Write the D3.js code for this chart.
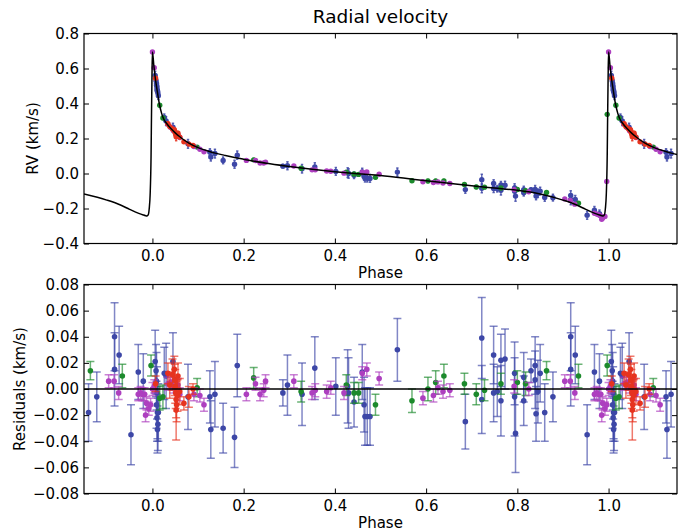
<!DOCTYPE html>
<html><head><meta charset="utf-8">
<script src="https://cdn.jsdelivr.net/npm/d3@7"></script>
<style>body{margin:0;background:#fff}svg{display:block;font-family:"DejaVu Sans",sans-serif}</style>
</head><body><svg id="c" width="682" height="531"></svg>
<script>
// ---------- data ----------
const xTicks = [0.0, 0.2, 0.4, 0.6, 0.8, 1.0];
const rvTicks = [-0.4, -0.2, 0.0, 0.2, 0.4, 0.6, 0.8];
const resTicks = [-0.08, -0.06, -0.04, -0.02, 0.0, 0.02, 0.04, 0.06, 0.08];

// model curve
const curvePhase = [-0.150,-0.100,-0.070,-0.050,-0.030,-0.020,-0.015,-0.012,-0.009,-0.007,-0.005,-0.003,-0.002,-0.001,
  0.000,0.003,0.006,0.010,0.015,0.020,0.025,0.030,0.040,0.050,0.060,0.070,0.080,0.090,0.100,0.120,0.140,0.160,0.180,0.200,
  0.250,0.300,0.350,0.400,0.450,0.500,0.550,0.600,0.650,0.700,0.750,0.800,0.850,0.900,0.930,0.950,0.970,0.980,0.985,0.988,
  0.991,0.993,0.995,0.997,0.998,0.999,1.000,1.003,1.006,1.010,1.015,1.020,1.025,1.030,1.040,1.050,1.060,1.070,1.080,1.090,
  1.100,1.120,1.140,1.150];
const curveRV = [-0.117,-0.152,-0.180,-0.205,-0.228,-0.237,-0.241,-0.243,-0.235,-0.200,-0.120,0.100,0.340,0.550,
  0.694,0.620,0.550,0.480,0.400,0.345,0.310,0.290,0.258,0.232,0.210,0.190,0.173,0.159,0.148,0.130,0.115,0.103,0.092,0.082,
  0.058,0.040,0.024,0.010,-0.002,-0.012,-0.026,-0.042,-0.056,-0.070,-0.083,-0.096,-0.117,-0.152,-0.180,-0.205,-0.228,-0.237,-0.241,-0.243,
  -0.235,-0.200,-0.120,0.100,0.340,0.550,0.694,0.620,0.550,0.480,0.400,0.345,0.310,0.290,0.258,0.232,0.210,0.190,0.173,0.159,
  0.148,0.130,0.115,0.109];

// instrument: blue
const bluePhase = [0.006,0.008,0.009,0.010,0.009,0.011,0.010,0.012,0.011,0.013,0.026,0.030,0.045,0.078,0.126,0.128,0.137,0.155,0.180,0.186,0.286,0.296,0.328,0.356,0.402,0.428,0.430,0.442,0.460,0.464,0.466,0.471,0.477,0.537,0.686,0.722,0.722,0.748,0.748,0.756,0.764,0.764,0.773,0.794,0.794,0.796,0.814,0.814,0.830,0.839,0.839,0.841,0.845,0.850,0.860,0.878,0.917,0.917,0.927,0.953,0.969,0.980];
const blueRV = [0.560,0.530,0.515,0.495,0.505,0.475,0.480,0.460,0.470,0.445,0.320,0.300,0.265,0.170,0.122,0.094,0.114,0.075,0.053,0.105,0.042,0.044,0.027,0.038,0.012,0.005,0.000,-0.010,0.009,-0.017,-0.026,-0.027,-0.028,0.008,-0.092,-0.035,-0.084,-0.057,-0.086,-0.087,-0.065,-0.096,-0.067,-0.083,-0.101,-0.129,-0.092,-0.110,-0.092,-0.091,-0.102,-0.129,-0.113,-0.101,-0.137,-0.138,-0.125,-0.150,-0.148,-0.238,-0.210,-0.229];
const blueRes = [0.021,0.014,0.006,-0.003,-0.012,-0.018,-0.022,-0.027,-0.031,-0.018,0.012,0.010,0.021,-0.006,-0.006,-0.031,-0.004,-0.030,-0.037,0.018,-0.003,0.003,-0.004,0.016,0.002,0.002,-0.003,-0.010,0.013,-0.012,-0.021,-0.021,-0.021,0.030,-0.025,0.039,-0.008,0.026,-0.003,-0.002,0.022,-0.009,0.023,0.012,-0.006,-0.034,0.009,-0.009,0.014,0.018,0.007,-0.019,-0.002,0.012,-0.018,-0.006,0.040,0.015,0.026,-0.035,0.013,0.006];
const blueErr = [0.024,0.020,0.022,0.020,0.018,0.020,0.018,0.020,0.018,0.022,0.020,0.025,0.022,0.025,0.020,0.022,0.025,0.019,0.023,0.024,0.010,0.023,0.024,0.024,0.022,0.028,0.027,0.019,0.021,0.021,0.022,0.022,0.022,0.024,0.021,0.031,0.026,0.022,0.022,0.019,0.020,0.027,0.023,0.024,0.030,0.030,0.019,0.019,0.009,0.022,0.022,0.021,0.024,0.022,0.022,0.019,0.026,0.028,0.022,0.023,0.021,0.021];

// instrument: green
const greenPhase = [0.016,0.023,0.098,0.222,0.326,0.425,0.442,0.452,0.489,0.569,0.604,0.621,0.639,0.684,0.710,0.728,0.764,0.800,0.818,0.864,0.934,0.997];
const greenRV = [0.390,0.317,0.151,0.078,0.030,0.007,-0.003,-0.005,-0.022,-0.041,-0.043,-0.043,-0.043,-0.063,-0.077,-0.078,-0.083,-0.091,-0.098,-0.108,-0.170,0.338];
const greenRes = [-0.007,-0.006,0.001,0.0085,-0.002,0.003,-0.003,-0.003,-0.012,-0.009,0.000,0.005,0.010,0.004,-0.004,-0.001,0.004,0.005,0.004,0.014,0.010,0.018];
const greenErr = [0.009,0.009,0.007,0.008,0.008,0.008,0.008,0.008,0.008,0.009,0.009,0.009,0.009,0.008,0.008,0.008,0.008,0.009,0.009,0.007,0.009,0.008];

// instrument: purple
const purplePhase = [0.000,0.004,0.034,0.040,0.046,0.056,0.060,0.091,0.104,0.113,0.206,0.226,0.236,0.244,0.248,0.310,0.350,0.357,0.382,0.391,0.420,0.460,0.470,0.497,0.593,0.616,0.626,0.637,0.652,0.793,0.825,0.904,0.916,0.926,0.969,0.974,0.978,0.983,0.987,0.985,0.992,0.996];
const purpleRV = [0.694,0.605,0.281,0.263,0.245,0.222,0.206,0.154,0.139,0.124,0.075,0.074,0.060,0.060,0.065,0.043,0.021,0.021,0.014,0.013,0.002,0.008,0.009,-0.004,-0.047,-0.051,-0.048,-0.054,-0.057,-0.092,-0.104,-0.145,-0.154,-0.175,-0.227,-0.232,-0.236,-0.243,-0.254,-0.261,-0.245,-0.046];
const purpleRes = [0.000,0.002,0.004,0.005,0.002,0.003,-0.004,-0.004,-0.005,-0.012,-0.004,0.004,-0.004,-0.001,0.006,0.006,-0.003,-0.001,-0.002,0.001,-0.003,0.012,0.015,0.008,-0.007,-0.005,0.001,-0.002,-0.001,0.002,0.000,0.006,0.006,-0.003,-0.004,-0.003,-0.004,-0.004,-0.011,-0.020,-0.015,-0.012];
const purpleErr = [0.005,0.005,0.005,0.005,0.005,0.005,0.005,0.005,0.005,0.005,0.005,0.005,0.005,0.005,0.005,0.005,0.005,0.005,0.005,0.005,0.005,0.005,0.005,0.005,0.005,0.005,0.005,0.005,0.005,0.005,0.005,0.005,0.005,0.005,0.005,0.005,0.005,0.005,0.005,0.005,0.005,0.005];

// instrument: red
const redPhase = [0.007,0.034,0.038,0.044,0.048,0.049,0.050,0.051,0.052,0.053,0.052,0.055,0.056,0.069,0.080,0.089,0.060];
const redRV = [0.545,0.285,0.268,0.255,0.250,0.240,0.233,0.226,0.220,0.214,0.210,0.218,0.230,0.181,0.168,0.160,0.208];
const redRes = [0.004,0.012,0.003,0.011,0.015,0.007,0.002,-0.003,-0.008,-0.012,-0.016,-0.005,0.010,-0.011,-0.006,0.000,-0.002];
const redErr = [0.006,0.008,0.010,0.012,0.010,0.012,0.013,0.012,0.014,0.013,0.023,0.012,0.010,0.005,0.008,0.004,0.010];

const series = [
  {name:"blue",   color:"#3d47a7", phase:bluePhase,   rv:blueRV,   res:blueRes,   err:blueErr},
  {name:"green",  color:"#1c8a2c", phase:greenPhase,  rv:greenRV,  res:greenRes,  err:greenErr},
  {name:"purple", color:"#ad3fbf", phase:purplePhase, rv:purpleRV, res:purpleRes, err:purpleErr},
  {name:"red",    color:"#e6331f", phase:redPhase,    rv:redRV,    res:redRes,    err:redErr}
];

// ---------- layout ----------
const svg = d3.select("#c");
const L = 84, R = 677;
const x = d3.scaleLinear().domain([-0.15, 1.15]).range([L, R]);
const topT = 33.5, topB = 243.5, botT = 284.5, botB = 493.5;
const yTop = d3.scaleLinear().domain([-0.4, 0.8]).range([topB, topT]);
const yRes = d3.scaleLinear().domain([-0.08, 0.08]).range([botB, botT]);
const FONT = "DejaVu Sans, sans-serif";

svg.append("clipPath").attr("id","ct").append("rect").attr("x",L).attr("y",topT).attr("width",R-L).attr("height",topB-topT);
svg.append("clipPath").attr("id","cb").append("rect").attr("x",L).attr("y",botT).attr("width",R-L).attr("height",botB-botT);

function expand(s, field, withMinus) {
  const out = [];
  s.phase.forEach((p, i) => {
    const shifts = [0, 1];
    if (withMinus) shifts.push(-1);
    shifts.forEach(k => {
      const ph = p + k;
      if (ph >= -0.15 && ph <= 1.15) out.push({p: ph, v: s[field][i], e: s.err[i]});
    });
  });
  return out;
}

function drawPoints(g, y, field, withMinus, capHalf, barOpacity, r) {
  series.forEach(s => {
    const pts = expand(s, field, withMinus);
    const gs = g.append("g");
    const eb = gs.append("g").attr("stroke", s.color).attr("stroke-opacity", barOpacity).attr("stroke-width", 1.5);
    pts.forEach(d => {
      const cx = x(d.p), y1 = y(d.v - d.e), y2 = y(d.v + d.e);
      eb.append("line").attr("x1",cx).attr("x2",cx).attr("y1",y1).attr("y2",y2);
      if (capHalf > 0) {
        eb.append("line").attr("x1",cx-capHalf).attr("x2",cx+capHalf).attr("y1",y1).attr("y2",y1);
        eb.append("line").attr("x1",cx-capHalf).attr("x2",cx+capHalf).attr("y1",y2).attr("y2",y2);
      }
    });
    gs.append("g").selectAll("circle").data(pts).join("circle")
      .attr("cx", d => x(d.p)).attr("cy", d => y(d.v)).attr("r", r).attr("fill", s.color);
  });
}

function axes(y, ticks, fmt, t, b) {
  const g = svg.append("g").attr("font-family", FONT);
  const bx = g.append("g").attr("transform",`translate(0,${b})`)
    .call(d3.axisBottom(x).tickValues(xTicks).tickFormat(d3.format(".1f")).tickSizeInner(-5).tickSizeOuter(0).tickPadding(7));
  const tx = g.append("g").attr("transform",`translate(0,${t})`)
    .call(d3.axisTop(x).tickValues(xTicks).tickFormat("").tickSizeInner(-5).tickSizeOuter(0));
  const ly = g.append("g").attr("transform",`translate(${L},0)`)
    .call(d3.axisLeft(y).tickValues(ticks).tickFormat(fmt).tickSizeInner(-5).tickSizeOuter(0).tickPadding(5));
  const ry = g.append("g").attr("transform",`translate(${R},0)`)
    .call(d3.axisRight(y).tickValues(ticks).tickFormat("").tickSizeInner(-5).tickSizeOuter(0));
  [bx, tx, ly, ry].forEach(a => {
    a.attr("font-family", FONT).attr("font-size", 15);
    a.select(".domain").remove();
    a.selectAll("line").attr("stroke", "#000").attr("stroke-width", 1);
    a.selectAll("text").attr("fill", "#000");
  });
  g.append("rect").attr("x", L).attr("y", t).attr("width", R - L).attr("height", b - t)
    .attr("fill", "none").attr("stroke", "#000").attr("stroke-width", 1.2);
}

// ---------- top panel ----------
const gTop = svg.append("g").attr("clip-path","url(#ct)");
drawPoints(gTop, yTop, "rv", false, 1.2, 0.8, 2.7);
const line = d3.line().x((d,i) => x(curvePhase[i])).y(d => yTop(d)).curve(d3.curveMonotoneX);
gTop.append("path").attr("d", line(curveRV)).attr("fill","none").attr("stroke","#000").attr("stroke-width",1.5);
axes(yTop, rvTicks, d3.format(".1f"), topT, topB);

// ---------- residual panel ----------
const gBot = svg.append("g").attr("clip-path","url(#cb)");
drawPoints(gBot, yRes, "res", true, 4, 0.65, 2.8);
gBot.append("line").attr("x1", L).attr("x2", R).attr("y1", yRes(0)).attr("y2", yRes(0))
  .attr("stroke", "#000").attr("stroke-width", 1.5);
axes(yRes, resTicks, d3.format(".2f"), botT, botB);

// ---------- labels ----------
svg.append("text").attr("x", (L+R)/2).attr("y", 23).attr("text-anchor","middle")
  .attr("font-family", FONT).attr("font-size", 18.5).text("Radial velocity");
svg.append("text").attr("x", (L+R)/2).attr("y", 278).attr("text-anchor","middle")
  .attr("font-family", FONT).attr("font-size", 15).text("Phase");
svg.append("text").attr("x", (L+R)/2).attr("y", 528).attr("text-anchor","middle")
  .attr("font-family", FONT).attr("font-size", 15).text("Phase");
svg.append("text").attr("transform", `translate(38,${(topT+topB)/2}) rotate(-90)`).attr("text-anchor","middle")
  .attr("font-family", FONT).attr("font-size", 15).text("RV (km/s)");
svg.append("text").attr("transform", `translate(25,${(botT+botB)/2}) rotate(-90)`).attr("text-anchor","middle")
  .attr("font-family", FONT).attr("font-size", 15).text("Residuals (km/s)");
</script></body></html>
